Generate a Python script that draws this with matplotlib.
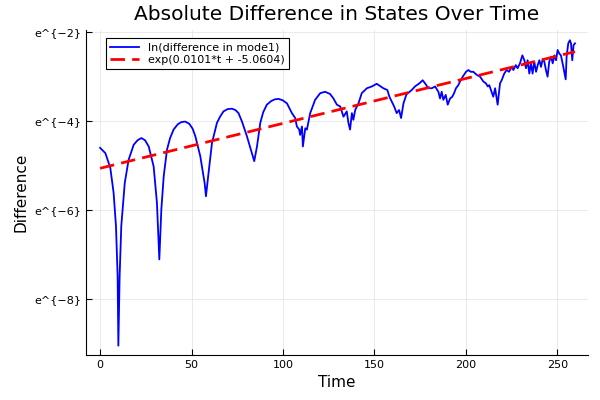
import numpy as np
import matplotlib
matplotlib.use("Agg")
import matplotlib.pyplot as plt

# time samples
t = [0, 2.9, 5.6, 7.4, 8.7, 9.6, 10.0, 10.7, 11.6, 13.5, 15.6, 18.4, 20.5,
     22.6, 24.6, 26.6, 29.3, 31.1, 32.4, 33.5, 34.8, 36.6, 38.3, 40.2, 42.5,
     44.5, 46.6, 48.8, 50.6, 52.1, 54.8, 57.2, 57.9, 59.3, 61.2, 63.9, 65.6,
     67.5, 69.7, 72.1, 74.0, 75.7, 77.6, 80.3, 83.0, 84.3, 85.8, 87.6, 89.2,
     91.2, 93.5, 95.5, 97.6, 99.8, 102.2, 104.9, 106.7, 107.6, 108.9, 109.4,
     110.4, 110.9, 112.2, 113.1, 114.9, 117.6, 120.4, 123.1, 125.8, 127.6,
     129.5, 131.3, 133.1, 134.9, 135.8, 136.7, 137.7, 138.5, 139.5, 141.3,
     143.1, 145.9, 148.6, 151.3, 153.1, 154.9, 157.1, 158.2, 159.5, 160.8,
     162.2, 163.5, 164.6, 165.9, 167.5, 170.4, 172.2, 174.6, 176.4, 177.7,
     179.5, 181.4, 183.2, 185.0, 185.9, 186.8, 187.7, 189.0, 190.1, 191.4,
     192.6, 193.6, 194.6, 195.9, 196.8, 198.3, 200.1, 201.4, 202.7, 204.1,
     206.0, 207.8, 209.6, 211.0, 212.0, 212.8, 214.1, 215.0, 216.0, 217.4,
     218.7, 219.6, 221.0, 222.3, 223.6, 225.1, 226.0, 227.3, 228.3, 229.6,
     230.9, 232.0, 232.9, 233.8, 234.7, 235.6, 236.5, 237.4, 238.4, 239.3,
     240.2, 241.1, 242.0, 242.9, 243.8, 244.7, 245.6, 246.6, 247.5, 248.4,
     249.3, 250.2, 251.1, 252.0, 253.3, 254.6, 255.1, 256.0, 256.9, 257.5,
     258.2, 258.9, 259.7]

# ln(difference in mode1)
ln_diff = [-4.60, -4.72, -5.05, -5.61, -6.36, -7.48, -9.05, -7.48, -6.36,
           -5.39, -4.87, -4.53, -4.43, -4.38, -4.43, -4.57, -5.02, -5.84,
           -7.11, -5.99, -5.24, -4.64, -4.38, -4.19, -4.07, -4.02, -4.01,
           -4.06, -4.17, -4.34, -4.79, -5.40, -5.69, -5.17, -4.49, -4.04,
           -3.90, -3.78, -3.73, -3.72, -3.75, -3.82, -4.01, -4.34, -4.72,
           -4.90, -4.57, -4.04, -3.80, -3.63, -3.55, -3.51, -3.50, -3.53,
           -3.60, -3.82, -3.93, -4.12, -4.19, -4.31, -4.12, -4.57, -4.16,
           -4.19, -3.82, -3.52, -3.37, -3.34, -3.39, -3.49, -3.63, -3.67,
           -3.90, -3.78, -4.04, -4.19, -3.82, -3.97, -3.75, -3.60, -3.37,
           -3.26, -3.22, -3.16, -3.21, -3.26, -3.30, -3.45, -3.56, -3.67,
           -3.82, -3.75, -3.93, -3.60, -3.40, -3.30, -3.22, -3.15, -3.08,
           -3.15, -3.26, -3.26, -3.22, -3.34, -3.49, -3.34, -3.52, -3.41,
           -3.63, -3.49, -3.45, -3.37, -3.26, -3.19, -3.11, -3.00, -2.89,
           -2.85, -2.89, -2.89, -2.96, -3.00, -3.11, -3.15, -3.22, -3.19,
           -3.34, -3.45, -3.26, -3.63, -3.15, -3.08, -2.93, -2.85, -2.89,
           -2.78, -2.85, -2.74, -2.81, -2.70, -2.52, -2.63, -2.81, -2.63,
           -2.93, -2.70, -2.93, -2.66, -2.89, -2.74, -2.63, -2.78, -2.61,
           -2.66, -2.85, -3.00, -2.66, -2.55, -2.70, -2.52, -2.63, -2.40,
           -2.48, -2.52, -2.78, -3.06, -2.55, -2.25, -2.18, -2.25, -2.63,
           -2.29, -2.25]

# exponential fit from the legend
fit_slope = 0.0101
fit_intercept = -5.0604

yticks = [-8, -6, -4, -2]
ytick_labels = ["e^{\u22128}", "e^{\u22126}", "e^{\u22124}", "e^{\u22122}"]
xticks = [0, 50, 100, 150, 200, 250]

t = np.array(t)
ln_diff = np.array(ln_diff)

fig = plt.figure(figsize=(6, 4), dpi=100)
ax = fig.add_axes([0.143, 0.1125, 0.837, 0.8125])

ax.plot(t, ln_diff, color="blue", lw=1.3, label="ln(difference in mode1)")
ax.plot(t, fit_slope * t + fit_intercept, color="red", lw=2.0,
        ls=(0, (5.2, 2.6)), label="exp(0.0101*t + -5.0604)")

ax.set_xlim(-7.8, 266.8)
ax.set_ylim(-9.26, -1.95)
ax.set_xticks(xticks)
ax.set_yticks(yticks)
ax.set_yticklabels(ytick_labels)
ax.tick_params(direction="in", length=4, labelsize=8, colors="black")
ax.grid(True, color="#e6e6e6", lw=0.6)
ax.spines["top"].set_visible(False)
ax.spines["right"].set_visible(False)

ax.set_title("Absolute Difference in States Over Time", fontsize=14.5, pad=7)
ax.set_xlabel("Time", fontsize=11)
ax.set_ylabel("Difference", fontsize=11)

leg = ax.legend(loc="upper left", bbox_to_anchor=(0.04, 0.975), fontsize=8,
                fancybox=False, framealpha=1, edgecolor="black",
                borderaxespad=0, handlelength=2.6, labelspacing=0.2)
leg.get_frame().set_linewidth(0.8)

fig.savefig("out.png", dpi=100)
